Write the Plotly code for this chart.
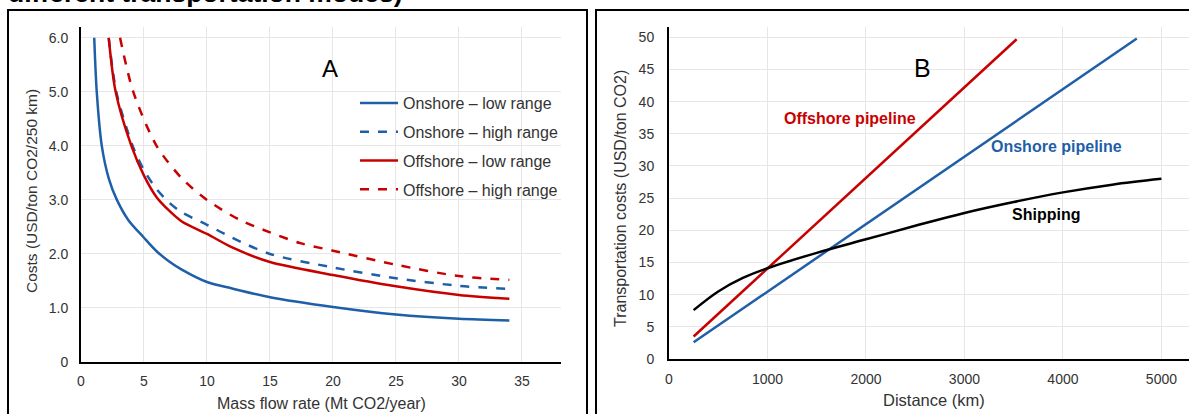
import plotly.graph_objects as go

W, H = 1189, 414
FONT = "Liberation Sans, Arial, sans-serif"
BLUE = "#1f5fa8"
RED = "#c80000"
GREY = "#333333"

# ---- Panel A data (cost vs mass flow rate) ----
on_low_x = [1.05, 1.25, 1.65, 2.2, 2.85, 3.75, 5, 6, 7, 8, 10, 12, 15, 20, 25, 30, 34]
on_low_y = [6.0, 5.0, 4.0, 3.4, 3.0, 2.63, 2.3, 2.05, 1.86, 1.71, 1.48, 1.36, 1.2, 1.02, 0.88, 0.80, 0.77]
on_high_x = [2.2, 2.8, 4.1, 5, 6, 7, 8, 10, 12, 15, 20, 25, 30, 34]
on_high_y = [6.0, 5.0, 4.0, 3.55, 3.2, 2.95, 2.77, 2.54, 2.3, 2.0, 1.75, 1.55, 1.41, 1.35]
off_low_x = [2.2, 2.75, 4.0, 5, 6, 7, 8, 10, 12, 15, 20, 25, 30, 34]
off_low_y = [6.0, 5.0, 4.0, 3.45, 3.05, 2.8, 2.6, 2.37, 2.12, 1.85, 1.61, 1.40, 1.24, 1.17]
off_high_x = [3.1, 4.15, 6.0, 8, 10, 12.6, 15, 17.4, 20, 25, 30, 34]
off_high_y = [6.0, 5.0, 4.0, 3.4, 3.0, 2.63, 2.4, 2.2, 2.06, 1.80, 1.59, 1.52]
a_yticks = [0, 1, 2, 3, 4, 5, 6]
a_yticklabels = ["0", "1.0", "2.0", "3.0", "4.0", "5.0", "6.0"]
a_xticks = [0, 5, 10, 15, 20, 25, 30, 35]

# ---- Panel B data (cost vs distance) ----
offp_x = [250, 3530]
offp_y = [3.5, 49.7]
onp_x = [250, 4750]
onp_y = [2.6, 49.8]
ship_x = [250, 500, 750, 1000, 1500, 2000, 2500, 3000, 3500, 4000, 4500, 5000]
ship_y = [7.6, 10.5, 12.6, 14.1, 16.5, 18.6, 20.7, 22.7, 24.4, 25.9, 27.1, 28.0]
b_yticks = [0, 5, 10, 15, 20, 25, 30, 35, 40, 45, 50]
b_xticks = [0, 1000, 2000, 3000, 4000, 5000]


def px(x):
    return x / W


def py(y):
    return 1 - y / H


fig = go.Figure()

series_a = [
    ("Onshore – low range", on_low_x, on_low_y, BLUE, "solid"),
    ("Onshore – high range", on_high_x, on_high_y, BLUE, "dash"),
    ("Offshore – low range", off_low_x, off_low_y, RED, "solid"),
    ("Offshore – high range", off_high_x, off_high_y, RED, "dash"),
]
for i, (name, xs, ys, c, d) in enumerate(series_a):
    fig.add_trace(go.Scatter(
        x=xs, y=ys, mode="lines", name=name, legendgroup=f"g{i}",
        line=dict(color=c, width=2.5, dash=d, shape="spline", smoothing=0.8),
        xaxis="x", yaxis="y"))

fig.add_trace(go.Scatter(x=offp_x, y=offp_y, mode="lines", showlegend=False,
                         line=dict(color=RED, width=2.5), xaxis="x2", yaxis="y2"))
fig.add_trace(go.Scatter(x=onp_x, y=onp_y, mode="lines", showlegend=False,
                         line=dict(color=BLUE, width=2.5), xaxis="x2", yaxis="y2"))
fig.add_trace(go.Scatter(x=ship_x, y=ship_y, mode="lines", showlegend=False,
                         line=dict(color="black", width=2.5, shape="spline"),
                         xaxis="x2", yaxis="y2"))

axis_common = dict(showline=True, linecolor="black", linewidth=2, showgrid=True,
                   gridcolor="#e6e6e6", gridwidth=1, zeroline=False, ticks="",
                   automargin=False,
                   tickfont=dict(family=FONT, size=14, color=GREY))

fig.update_layout(
    width=W, height=H,
    margin=dict(l=0, r=0, t=0, b=0, autoexpand=False),
    paper_bgcolor="white", plot_bgcolor="white",
    font=dict(family=FONT, color=GREY),
    xaxis=dict(domain=[px(81), px(561)], range=[0, 38.1], tickvals=a_xticks,
               anchor="y", ticklabelstandoff=5, **axis_common),
    yaxis=dict(domain=[py(362), py(27)], range=[0, 6.2], tickvals=a_yticks,
               ticktext=a_yticklabels, anchor="x", ticklabelstandoff=8,
               **axis_common),
    xaxis2=dict(domain=[px(669), 1.0], range=[0, 5280], tickvals=b_xticks,
                anchor="y2", ticklabelstandoff=6, **axis_common),
    yaxis2=dict(domain=[py(359), py(27)], range=[0, 51.6], tickvals=b_yticks,
                anchor="x2", ticklabelstandoff=10, **axis_common),
    legend=dict(x=px(355), y=py(86), xanchor="left", yanchor="top",
                bgcolor="rgba(0,0,0,0)", borderwidth=0, tracegroupgap=5,
                traceorder="grouped", itemwidth=38,
                font=dict(family=FONT, size=16, color=GREY)),
    showlegend=True,
)

# panel frames
fig.add_shape(type="rect", xref="paper", yref="paper",
              x0=px(8), x1=px(587), y0=-0.05, y1=py(10),
              line=dict(color="black", width=2), fillcolor="rgba(0,0,0,0)")
fig.add_shape(type="rect", xref="paper", yref="paper",
              x0=px(596), x1=1.05, y0=-0.05, y1=py(10),
              line=dict(color="black", width=2), fillcolor="rgba(0,0,0,0)")


def note(text, x, y, size, color=GREY, angle=0, xa="center", ya="middle"):
    return dict(text=text, x=px(x), y=py(y), xref="paper", yref="paper",
                xanchor=xa, yanchor=ya, showarrow=False, textangle=angle,
                font=dict(family=FONT, size=size, color=color))


annotations = [
    # partially visible heading at the very top
    note("<b>different transportation modes)</b>", 6, 10, 26.5, "black", xa="left", ya="bottom"),
    # axis titles
    note("Mass flow rate (Mt CO2/year)", 321, 403, 16),
    note("Costs (USD/ton CO2/250 km)", 31, 191, 15.5, angle=-90),
    note("Distance (km)", 934, 400, 16.5),
    note("Transportation costs (USD/ton CO2)", 620, 199, 16, angle=-90),
    # panel letters
    note("A", 330, 69, 24, "black"),
    note("B", 922, 68, 25, "black"),
    # line labels in B
    dict(text="<b>Offshore pipeline</b>", x=1835, y=37.4, xref="x2", yref="y2",
         showarrow=False, font=dict(family=FONT, size=16, color=RED)),
    dict(text="<b>Onshore pipeline</b>", x=3930, y=33.0, xref="x2", yref="y2",
         showarrow=False, font=dict(family=FONT, size=16, color=BLUE)),
    dict(text="<b>Shipping</b>", x=3830, y=22.4, xref="x2", yref="y2",
         showarrow=False, font=dict(family=FONT, size=16, color="black")),
]
fig.update_layout(annotations=annotations)

fig.write_html("out.html", config={"displayModeBar": False},
               post_script="document.body.style.margin='0px';")
